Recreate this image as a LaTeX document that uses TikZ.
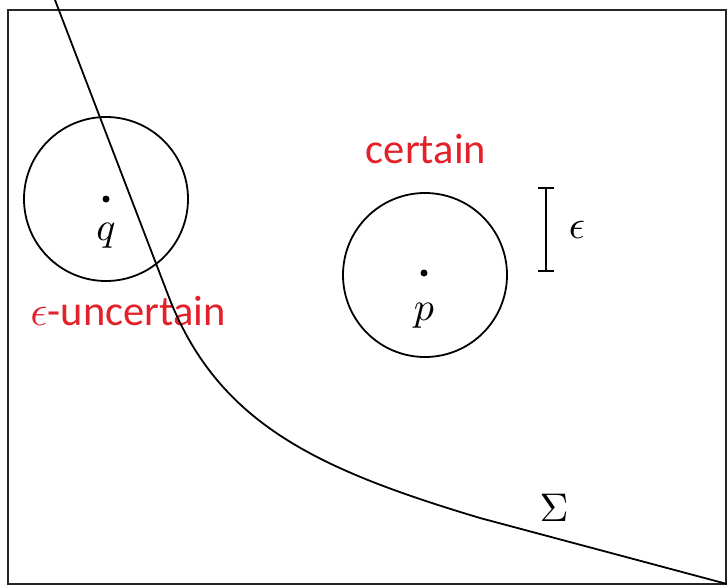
\documentclass[tikz,border=0pt]{standalone}
\usepackage{fontspec}
\setsansfont{Carlito}
\usepackage{tikz}
\usetikzlibrary{positioning,arrows.meta}
\definecolor{certred}{HTML}{E3212B}
\tikzset{
  ball/.style={circle,draw=black,line width=1.8pt,minimum size=164pt,inner sep=0pt},
  pt/.style={circle,fill=black,minimum size=7pt,inner sep=0pt},
  lab/.style={font=\sffamily,scale=4.25,text=certred,inner sep=0pt},
  sym/.style={scale=4,inner sep=0pt},
  bound/.style={line width=1.8pt,draw=black},
}

\begin{document}
\begin{tikzpicture}[x=1pt,y=-1pt]
  \useasboundingbox (0,0) rectangle (727,586);
  \draw[line width=2.2pt,black!85] (8,10) rectangle (726,584);
  \node[pt] (q) at (106,199) {};
  \node[pt] (p) at (424,273) {};
  \node[ball] (qball) at (q) {};
  \node[ball] (pball) at (425,275) {};
  \node[sym,below=20pt of q] (qlab) {$q$};
  \node[sym,below=26pt of p] (plab) {$p$};
  \node[lab,anchor=base] (cert) at (426,163) {certain};
  \node[lab,anchor=base] (uncert) at (128,325) {$\epsilon$-uncertain};
  \coordinate (etop) at (546,187);
  \coordinate (ebot) at (546,272);
  \draw[line width=1.8pt,{Bar[width=16pt]}-{Bar[width=16pt]}] (etop) -- (ebot);
  \node[sym,anchor=west] (eps) at (568,230) {$\epsilon$};
  \node[sym] (sig) at (554,508) {$\Sigma$};
  % the boundary Sigma
  \coordinate (top) at (55,0);
  \coordinate (bend) at (170,300);
  \coordinate (flat) at (480,518);
  \coordinate (corner) at (727,584);
  \draw[bound] (top) -- (bend) .. controls (220,425) and (320,470) .. (flat) -- (corner);
\end{tikzpicture}
\end{document}
